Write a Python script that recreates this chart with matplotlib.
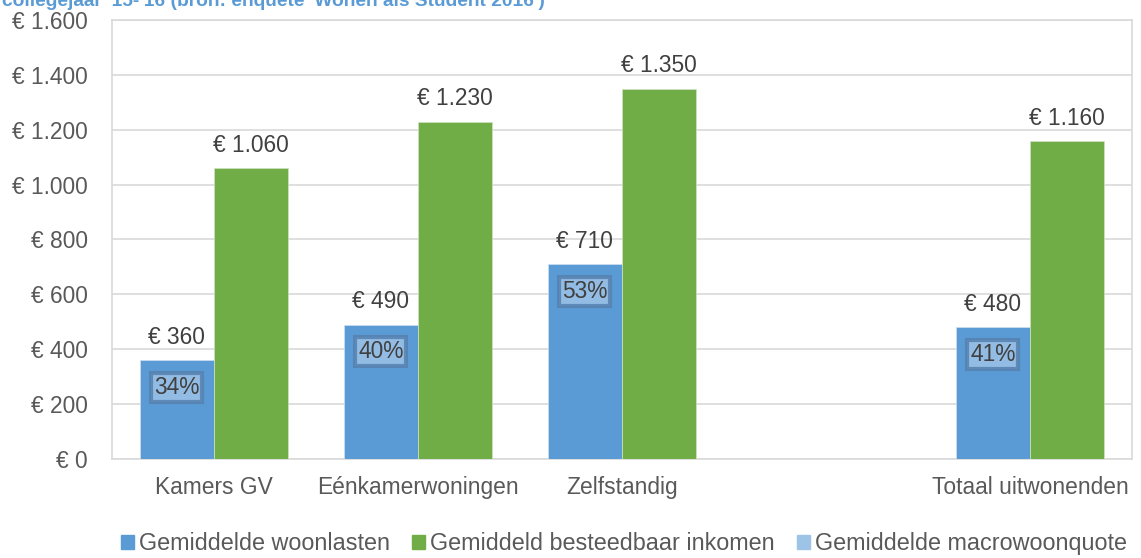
import matplotlib.pyplot as plt
from matplotlib.patches import Patch

plt.rcParams['font.family'] = ['Liberation Sans', 'DejaVu Sans']

categories = ['Kamers GV', 'Eénkamerwoningen', 'Zelfstandig', '', 'Totaal uitwonenden']
woonlasten = [360, 490, 710, None, 480]
inkomen = [1060, 1230, 1350, None, 1160]
woonquote = [34, 40, 53, None, 41]
yticks = [0, 200, 400, 600, 800, 1000, 1200, 1400, 1600]

BLUE = '#5B9BD5'
GREEN = '#70AD47'
LIGHT = '#9DC3E6'
GRID = '#D9D9D9'
TXT = '#595959'
LBL = '#404040'
FS = 16.4


def euro(v):
    return '€ ' + f'{v:,.0f}'.replace(',', '.')


fig = plt.figure(figsize=(11.41, 5.58), dpi=100)
ax = fig.add_axes([0.0982, 0.1774, 0.8939, 0.7868])

w = 0.365
for i, (wl, ink, q) in enumerate(zip(woonlasten, inkomen, woonquote)):
    if wl is None:
        continue
    ax.bar(i - w / 2, wl, w, color=BLUE, edgecolor='#cfe0f1', lw=0.5, zorder=3)
    ax.bar(i + w / 2, ink, w, color=GREEN, edgecolor='#cfe3c2', lw=0.5, zorder=3)
    ax.annotate(euro(wl), (i - w / 2, wl), xytext=(0, 8), textcoords='offset points',
                ha='center', va='bottom', fontsize=FS, color=LBL)
    ax.annotate(euro(ink), (i + w / 2, ink), xytext=(0, 8), textcoords='offset points',
                ha='center', va='bottom', fontsize=FS, color=LBL)
    # quote label: light box with a soft darker rim
    ax.annotate(f'{q}%', (i - w / 2, wl), xytext=(0, -19.5), textcoords='offset points',
                ha='center', va='center', fontsize=FS, color=LBL, zorder=5,
                bbox=dict(boxstyle='square,pad=0.12', facecolor=LIGHT,
                          edgecolor='#5580b0', lw=3, alpha=0.85))

ax.set_xlim(-0.5, 4.5)
ax.set_ylim(0, 1600)
ax.set_xticks(range(len(categories)))
ax.set_xticklabels(categories, fontsize=FS, color=TXT)
ax.set_yticks(yticks)
ax.set_yticklabels([euro(v) for v in yticks], fontsize=FS, color=TXT)
ax.tick_params(axis='both', length=0)
ax.tick_params(axis='y', pad=17.3)
ax.tick_params(axis='x', pad=12)
ax.grid(axis='y', color=GRID, lw=1.2, zorder=0)
for s in ax.spines.values():
    s.set_color(GRID)
    s.set_linewidth(1.2)

fig.text(0.002, 1 - 6 / 558, "collegejaar '15-'16 (bron: enquête 'Wonen als Student 2016')",
         fontsize=13.8, fontweight='bold', color='#5B9BD5', va='baseline', ha='left')

handles = [Patch(color=BLUE), Patch(color=GREEN), Patch(color=LIGHT)]
labels = ['Gemiddelde woonlasten', 'Gemiddeld besteedbaar inkomen', 'Gemiddelde macrowoonquote']
leg = fig.legend(handles, labels, loc='center', bbox_to_anchor=(0.547, 0.026), ncol=3,
                 frameon=False, fontsize=16.8, handlelength=0.56, handleheight=0.56,
                 handletextpad=0.22, columnspacing=0.95, borderpad=0, borderaxespad=0)
for t in leg.get_texts():
    t.set_color(TXT)

fig.savefig('out.png', dpi=100)
